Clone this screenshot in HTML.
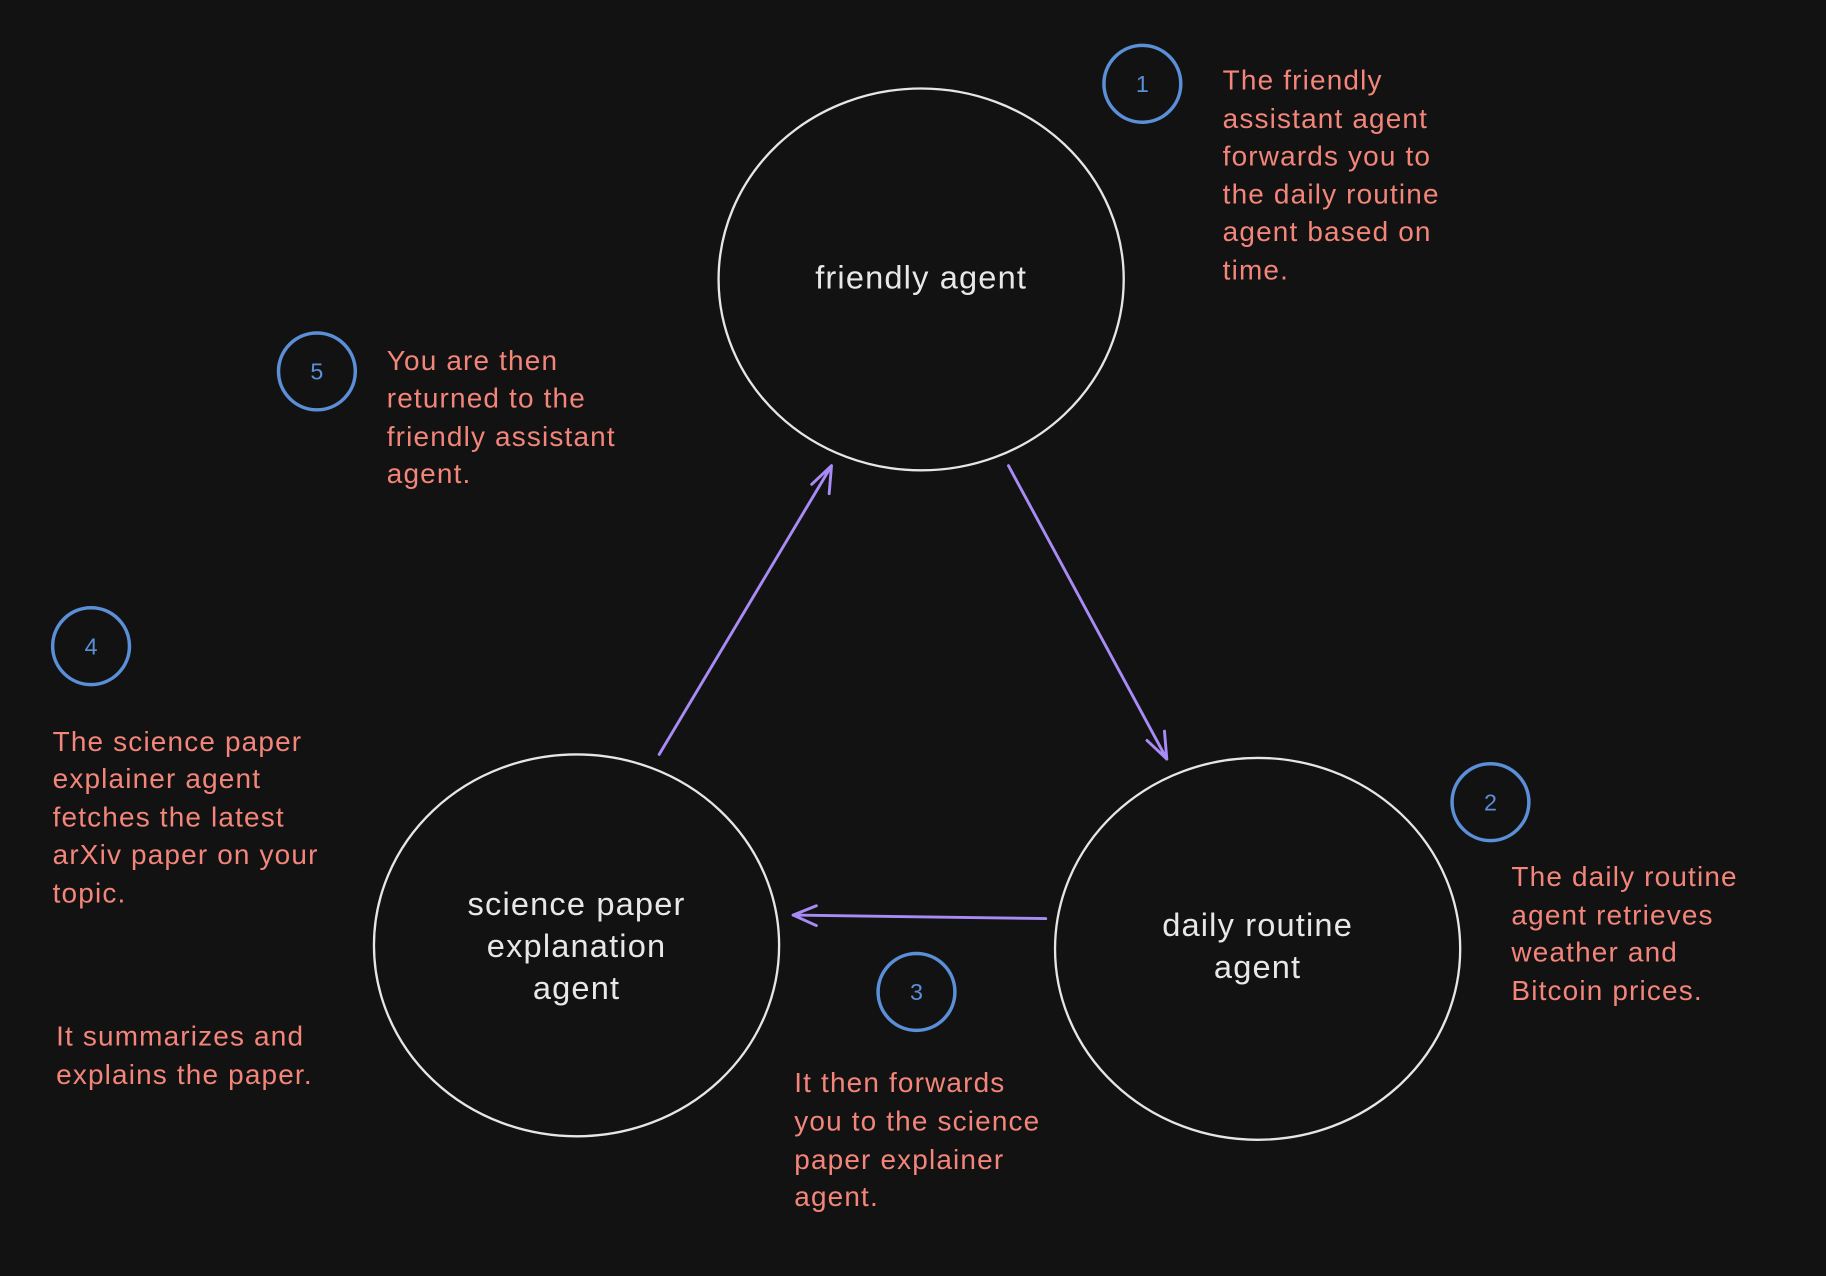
<!DOCTYPE html>
<html><head><meta charset="utf-8"><style>
html,body{margin:0;padding:0;background:#121212;}
svg{display:block}
text{font-family:"Liberation Sans",sans-serif;}
.r{fill:#f3857a;font-size:24px;letter-spacing:1px;}
.w{fill:#e8e8e8;font-size:28px;text-anchor:middle;letter-spacing:1px;}
.n{fill:#5b8fd8;font-size:20px;text-anchor:middle;}
</style></head><body>
<svg width="1826" height="1276" viewBox="0 0 1568 1096" xmlns="http://www.w3.org/2000/svg">
<rect width="1568" height="1096" fill="#121212"/>
<g fill="none" stroke="#e6e6e6" stroke-width="2">
<ellipse cx="791" cy="240" rx="174" ry="164"/>
<ellipse cx="495" cy="812" rx="174" ry="164"/>
<ellipse cx="1080" cy="815" rx="174" ry="164"/>
</g>
<g fill="none" stroke="#5b8fd8" stroke-width="3">
<circle cx="981" cy="72" r="33"/>
<circle cx="1280" cy="689" r="33"/>
<circle cx="787" cy="852" r="33"/>
<circle cx="78" cy="555" r="33"/>
<circle cx="272" cy="319" r="33"/>
</g>
<g class="n">
<text x="981" y="79">1</text><text x="1280" y="696">2</text><text x="787" y="859">3</text><text x="78" y="562">4</text><text x="272" y="326">5</text>
</g>
<g fill="none" stroke="#a98bf5" stroke-width="2.5" stroke-linecap="round">
<path d="M866 400 L1002 652 M1002 652 L1000 628 M1002 652 L985 636"/>
<path d="M898 789 L681 786 M681 786 L701 778 M681 786 L701 795"/>
<path d="M566 648 L714 400 M714 400 L697 416 M714 400 L712 424"/>
</g>
<text class="w" x="791" y="248">friendly agent</text>
<text class="w" x="495" y="786">science paper</text>
<text class="w" x="495" y="822">explanation</text>
<text class="w" x="495" y="858">agent</text>
<text class="w" x="1080" y="804">daily routine</text>
<text class="w" x="1080" y="840">agent</text>
<g class="r">
<text x="1050" y="77">The friendly</text>
<text x="1050" y="110">assistant agent</text>
<text x="1050" y="142">forwards you to</text>
<text x="1050" y="175">the daily routine</text>
<text x="1050" y="207">agent based on</text>
<text x="1050" y="240">time.</text>
<text x="332" y="318">You are then</text>
<text x="332" y="350">returned to the</text>
<text x="332" y="383">friendly assistant</text>
<text x="332" y="415">agent.</text>
<text x="45" y="645">The science paper</text>
<text x="45" y="677">explainer agent</text>
<text x="45" y="710">fetches the latest</text>
<text x="45" y="742">arXiv paper on your</text>
<text x="45" y="775">topic.</text>
<text x="48" y="898">It summarizes and</text>
<text x="48" y="931">explains the paper.</text>
<text x="1298" y="761">The daily routine</text>
<text x="1298" y="794">agent retrieves</text>
<text x="1298" y="826">weather and</text>
<text x="1298" y="859">Bitcoin prices.</text>
<text x="682" y="938">It then forwards</text>
<text x="682" y="971">you to the science</text>
<text x="682" y="1004">paper explainer</text>
<text x="682" y="1036">agent.</text>
</g>
</svg>
</body></html>
